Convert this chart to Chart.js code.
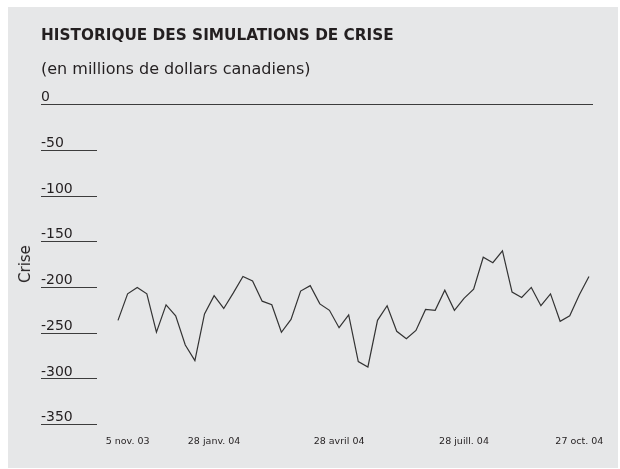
<!DOCTYPE html>
<html lang="fr">
<head>
<meta charset="utf-8">
<script src="https://cdn.jsdelivr.net/npm/chart.js@4/dist/chart.umd.min.js"></script>
<style>
  html, body { margin: 0; padding: 0; background: #ffffff; }
  #panel { position: absolute; left: 8px; top: 7px; width: 610px; height: 461px; background: #e6e7e8; }
  #wrap { position: absolute; left: 0; top: 0; width: 620px; height: 469px; }
  #ytitle {
    position: absolute; left: 25px; top: 264px;
    transform: translate(-50%, -50%) rotate(-90deg);
    font: 15px "DejaVu Sans", sans-serif; color: #231f20; white-space: nowrap;
  }
</style>
</head>
<body>
<div id="panel"></div>
<div id="wrap"><canvas id="c" width="620" height="469"></canvas></div>
<div id="ytitle">Crise</div>
<script>
// Weekly stress-test results, in millions of CAD.
const crise = [
  -236, -207, -200, -207, -249, -219, -231, -263, -280, -229,
  -209, -223, -206, -188, -193, -215, -219, -249, -235, -204,
  -198, -218, -225, -244, -230, -281, -287, -236, -220, -248,
  -256, -247, -224, -225, -203, -225, -212, -202, -167, -173,
  -160, -205, -211, -200, -220, -207, -237, -231, -208, -188,
];
const weekIndex = crise.map((_, i) => i);

// Date labels and the week they sit on.
const dateLabels = ["5 nov. 03", "28 janv. 04", "28 avril 04", "28 juill. 04", "27 oct. 04"];
const dateIndex = [1, 10, 23, 36, 48];

const yTicks = [0, -50, -100, -150, -200, -250, -300, -350];

const INK = "#231f20";
const RULE = "#3c3c3c";
const FONT = '"DejaVu Sans", sans-serif';

Chart.defaults.font.family = FONT;
Chart.defaults.color = INK;

new Chart(document.getElementById("c"), {
  type: "line",
  data: {
    datasets: [
      {
        label: "Crise",
        data: weekIndex.map((w, i) => ({ x: w, y: crise[i] })),
        borderColor: "#333333",
        borderWidth: 1.2,
        pointRadius: 0,
        tension: 0,
        fill: false,
      },
    ],
  },
  options: {
    responsive: false,
    animation: false,
    layout: { padding: { left: 41, right: 27, top: 0, bottom: 11 } },
    scales: {
      x: {
        type: "linear",
        min: -2.185,
        max: 49.42,
        grid: { display: false, drawTicks: false },
        border: { display: false },
        afterBuildTicks: (s) => {
          s.ticks = dateIndex.map((v) => ({ value: v }));
        },
        ticks: {
          padding: 11,
          color: INK,
          font: { size: 9.5 },
          maxRotation: 0,
          autoSkip: false,
          callback: (v) => dateLabels[dateIndex.indexOf(v)] || "",
        },
      },
      y: {
        min: -350,
        max: 0,
        afterBuildTicks: (s) => {
          s.ticks = yTicks.map((v) => ({ value: v }));
        },
        afterFit: (s) => {
          s.width = 56;
        },
        border: { display: false },
        grid: {
          color: (c) => (c.tick && c.tick.value === 0 ? RULE : "transparent"),
          tickColor: RULE,
          tickLength: 56,
          lineWidth: 1,
        },
        ticks: {
          crossAlign: "far",
          padding: -14,
          labelOffset: -7,
          color: INK,
          font: { size: 14 },
        },
      },
    },
    plugins: {
      legend: { display: false },
      tooltip: { enabled: false },
      title: {
        display: true,
        text: "HISTORIQUE DES SIMULATIONS DE CRISE",
        align: "start",
        color: INK,
        font: { size: 15.3, weight: "bold" },
        padding: { top: 27, bottom: 0 },
      },
      subtitle: {
        display: true,
        text: "(en millions de dollars canadiens)",
        align: "start",
        color: INK,
        font: { size: 16, weight: "normal" },
        padding: { top: 15, bottom: 25 },
      },
    },
  },
});
</script>
</body>
</html>
